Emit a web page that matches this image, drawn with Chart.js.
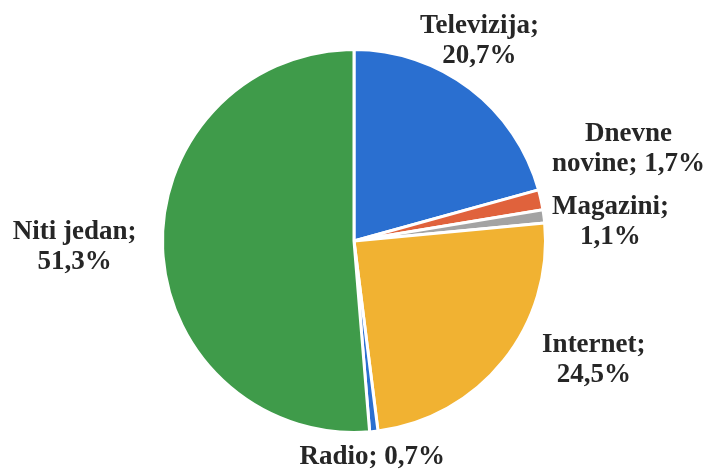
<!DOCTYPE html>
<html>
<head>
<meta charset="utf-8">
<script src="https://cdn.jsdelivr.net/npm/chart.js@4"></script>
<style>
    html, body { margin: 0; padding: 0; background: #fff; }
    #wrap { width: 708px; height: 471px; }
</style>
</head>
<body>
<div id="wrap"><canvas id="pie"></canvas></div>
<script>
const categories = ['Televizija', 'Dnevne novine', 'Magazini', 'Internet', 'Radio', 'Niti jedan'];
const shares = [20.7, 1.7, 1.1, 24.5, 0.7, 51.3];
const sliceColors = ['#2a6fd0', '#e0623c', '#a3a3a3', '#f1b232', '#2a6fd0', '#3f9b4a'];
// label text lines and a small nudge from the default spot outside each slice
const labelLines = [
    ['Televizija;', '20,7%'],
    ['Dnevne', 'novine; 1,7%'],
    ['Magazini;', '1,1%'],
    ['Internet;', '24,5%'],
    ['Radio; 0,7%'],
    ['Niti jedan;', '51,3%']
];
const labelNudge = [[-28, 2], [27, -37], [5, 14], [42, -39], [-8, -36], [-26, -4]];

const outsideLabels = {
    id: 'outsideLabels',
    afterDatasetsDraw(chart) {
        const ctx = chart.ctx;
        const arcs = chart.getDatasetMeta(0).data;
        ctx.save();
        ctx.font = 'bold 27px "Liberation Serif", "DejaVu Serif", serif';
        ctx.fillStyle = '#262626';
        ctx.textAlign = 'center';
        ctx.textBaseline = 'middle';
        arcs.forEach((arc, i) => {
            const p = arc.getProps(['x', 'y', 'startAngle', 'endAngle', 'outerRadius'], true);
            const mid = (p.startAngle + p.endAngle) / 2;
            const dist = p.outerRadius + 62;
            const cx = p.x + Math.cos(mid) * dist + labelNudge[i][0];
            const cy = p.y + Math.sin(mid) * dist + labelNudge[i][1];
            const lines = labelLines[i];
            const lh = 30;
            lines.forEach((line, j) => {
                ctx.fillText(line, cx, cy + (j - (lines.length - 1) / 2) * lh);
            });
        });
        ctx.restore();
    }
};

new Chart(document.getElementById('pie'), {
    type: 'pie',
    data: {
        labels: categories,
        datasets: [{
            data: shares,
            backgroundColor: sliceColors,
            borderColor: '#ffffff',
            borderWidth: 3
        }]
    },
    options: {
        responsive: true,
        maintainAspectRatio: false,
        animation: false,
        layout: { padding: { top: 48, bottom: 37, left: 0, right: 0 } },
        plugins: {
            legend: { display: false },
            tooltip: { enabled: false }
        }
    },
    plugins: [outsideLabels]
});
</script>
</body>
</html>
